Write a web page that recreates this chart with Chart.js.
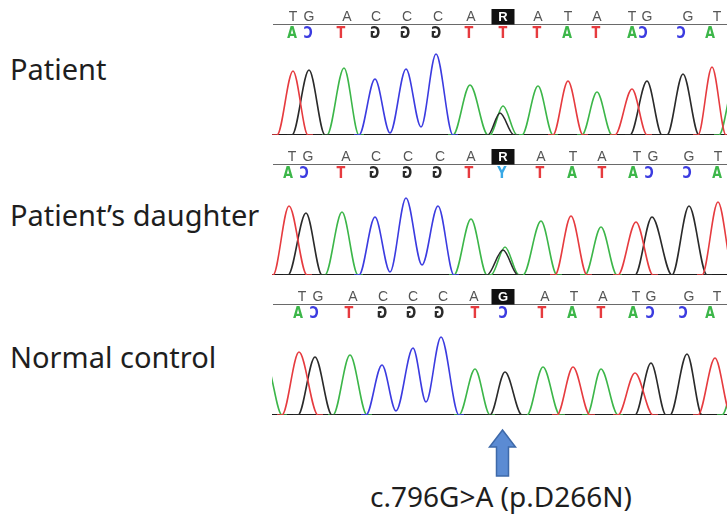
<!DOCTYPE html>
<html><head><meta charset="utf-8">
<script src="https://cdn.jsdelivr.net/npm/chart.js@4/dist/chart.umd.min.js"></script>
<style>
html,body{margin:0;padding:0;background:#fff;}
#wrap{position:relative;width:727px;height:520px;overflow:hidden;background:#fff;}
canvas.panel{position:absolute;left:272px;}
.lbl{position:absolute;font-family:"Noto Sans",sans-serif;font-size:29px;line-height:29px;color:#1e1e1e;white-space:nowrap;}
</style></head>
<body><div id="wrap">
<div class="lbl" style="left:10px;top:54px;">Patient</div>
<div class="lbl" style="left:10px;top:200px;">Patient’s daughter</div>
<div class="lbl" style="left:10px;top:342px;">Normal control</div>
<div class="lbl" style="left:370px;top:482px;font-size:28px;">c.796G&gt;A (p.D266N)</div>
<svg style="position:absolute;left:0;top:0" width="727" height="520">
<polygon points="502.5,430 515.5,447 508.5,447 508.5,476 496.5,476 496.5,447 489.5,447" fill="#5b8bd3" stroke="#3e69a9" stroke-width="1.5"/>
</svg>
<canvas class="panel" id="p1" width="455" height="137" style="top:0px"></canvas>
<canvas class="panel" id="p2" width="455" height="137" style="top:140px"></canvas>
<canvas class="panel" id="p3" width="455" height="137" style="top:280px"></canvas>
</div>
<script>
// ---- base calls (top row: forward calls; bottom row: mirrored complement calls) ----
const patientTopBases   = ["T","G","A","C","C","C","A","R","A","T","A","T","G","G","T"];
const patientTopPos     = [293,309,347,376,407,438,471,503,538,568,597,632,647,688,717];
const patientBotBases   = ["A","C","T","G","G","G","T","T","T","A","T","A","C","C","A"];
const patientBotPos     = [292,308,341,375,405,436,469,503,537,567,596,632,643,681,710];

const daughterTopBases  = ["T","G","A","C","C","C","A","R","A","T","A","T","G","G","T"];
const daughterTopPos    = [292,308,346,376,408,440,471,503,541,573,602,637,653,689,718];
const daughterBotBases  = ["A","C","T","G","G","G","T","Y","T","A","T","A","C","C","A"];
const daughterBotPos    = [288,304,341,374,407,437,469,502,540,572,602,633,649,687,717];

const controlTopBases   = ["T","G","A","C","C","C","A","G","A","T","A","T","G","G","T"];
const controlTopPos     = [302,318,353,383,413,443,474,503,545,574,603,636,651,689,717];
const controlBotBases   = ["A","C","T","G","G","G","T","C","T","A","T","A","C","C","A"];
const controlBotPos     = [298,314,349,382,411,439,475,503,542,572,601,633,650,683,710];

// ---- trace peaks: [position, signal] points, one group per peak ----
const patientT = [[[277,0],[293,64],[308,0]],[[553,0],[568,54],[583,0]],[[615,0],[632,46],[647,0]],[[698,0],[712,68],[726,0]]];
const patientG = [[[292,0],[309,65],[325,0]],[[488,0],[500,22],[514,0]],[[630,0],[647,54],[662,0]],[[667,0],[683,61],[699,0]]];
const patientA = [[[327,0],[344,67],[359,0]],[[453,0],[470,50],[488,0]],[[490,0],[503,29],[517,0]],[[522,0],[538,49],[553,0]],[[582,0],[597,43],[612,0]],[[719,0],[736,60],[752,0]]];
const patientC = [[[359,0],[375,56],[390,2],[406,66],[421,8],[436,81],[453,0]]];

const daughterT = [[[273,0],[289,69],[307,0]],[[555,0],[571,59],[587,0]],[[618,0],[636,53],[653,0]],[[702,0],[718,73],[734,0]]];
const daughterG = [[[288,0],[306,62],[322,0]],[[487,0],[503,25],[518,0]],[[635,0],[652,58],[672,0]],[[672,0],[689,69],[707,0]]];
const daughterA = [[[325,0],[342,63],[358,0]],[[454,0],[471,56],[487,0]],[[491,0],[505,28],[519,0]],[[523,0],[541,54],[557,0]],[[585,0],[601,48],[617,0]]];
const daughterC = [[[359,0],[375,58],[390,3],[406,77],[422,10],[438,69],[454,0]]];

const controlT = [[[282,0],[299,63],[318,0]],[[557,0],[573,48],[590,0]],[[618,0],[635,42],[653,0]],[[698,0],[715,57],[731,0]]];
const controlG = [[[298,0],[315,58],[332,0]],[[490,0],[505,43],[522,0]],[[635,0],[651,52],[666,0]],[[670,0],[687,61],[702,0]]];
const controlA = [[[250,0],[266,52],[282,0]],[[333,0],[350,60],[367,0]],[[459,0],[475,46],[490,0]],[[527,0],[543,48],[560,0]],[[587,0],[601,46],[618,0]],[[722,0],[740,55],[756,0]]];
const controlC = [[[366,0],[382,50],[396,4],[413,67],[426,13],[441,78],[459,0]]];

const COL = {A:"#3cb649", C:"#3b3be0", G:"#2a2a2a", T:"#e63b3f", Y:"#38a8e6"};

const callsPlugin = {
  id: "calls",
  afterDraw(chart, args, opts) {
    const ctx = chart.ctx, xs = chart.scales.x;
    ctx.save();
    ctx.strokeStyle = "#6a6a6a"; ctx.lineWidth = 1;
    ctx.beginPath(); ctx.moveTo(1, 24.5); ctx.lineTo(chart.width, 24.5); ctx.stroke();
    ctx.textAlign = "center"; ctx.textBaseline = "alphabetic";
    opts.top.forEach((b, i) => {
      const x = xs.getPixelForValue(opts.topPos[i]);
      if (i === opts.boxIndex) {
        ctx.fillStyle = "#111";
        ctx.fillRect(x - 11.5, 9, 23, 15.5);
        ctx.fillStyle = "#fff";
        ctx.font = "bold 13px 'Liberation Sans', sans-serif";
      } else {
        ctx.fillStyle = "#555";
        ctx.font = "14px 'Liberation Sans', sans-serif";
      }
      ctx.fillText(b, x, 21);
    });
    ctx.font = "bold 15px 'DejaVu Sans', sans-serif";
    opts.bot.forEach((b, i) => {
      const x = xs.getPixelForValue(opts.botPos[i]);
      ctx.save();
      ctx.translate(x, 37.5);
      ctx.scale(-0.85, 1);
      ctx.fillStyle = COL[b];
      ctx.fillText(b, 0, 0);
      ctx.restore();
    });
    ctx.restore();
  }
};

function makePanel(id, T, G, A, C, top, topPos, bot, botPos) {
  const ds = [];
  const add = (groups, color) => groups.forEach(g => {
    const pts = g.map(p => ({x: p[0], y: p[1]}));
    // flat lead-in / lead-out on the baseline so the curve leaves the baseline smoothly
    pts.unshift({x: g[0][0] - 5, y: 0});
    pts.push({x: g[g.length - 1][0] + 5, y: 0});
    ds.push({
      data: pts, borderColor: color, borderWidth: 1.6, pointRadius: 0,
      cubicInterpolationMode: "monotone", fill: false
    });
  });
  add(T, COL.T); add(G, COL.G); add(C, COL.C); add(A, COL.A);
  ds.push({data: [{x:272,y:0},{x:727,y:0}], borderColor:"#1c1c1c", borderWidth:2.2, pointRadius:0, fill:false});
  new Chart(document.getElementById(id), {
    type: "line",
    data: {datasets: ds},
    options: {
      responsive: false, animation: false, events: [],
      layout: {padding: {top: 40, bottom: 2, left: 0, right: 0}},
      scales: {
        x: {type: "linear", min: 272, max: 727, display: false},
        y: {min: 0, max: 95, display: false}
      },
      plugins: {
        legend: {display: false}, tooltip: {enabled: false},
        calls: {top: top, topPos: topPos, bot: bot, botPos: botPos, boxIndex: 7}
      }
    },
    plugins: [callsPlugin]
  });
}
makePanel("p1", patientT, patientG, patientA, patientC, patientTopBases, patientTopPos, patientBotBases, patientBotPos);
makePanel("p2", daughterT, daughterG, daughterA, daughterC, daughterTopBases, daughterTopPos, daughterBotBases, daughterBotPos);
makePanel("p3", controlT, controlG, controlA, controlC, controlTopBases, controlTopPos, controlBotBases, controlBotPos);
</script>
</body></html>
